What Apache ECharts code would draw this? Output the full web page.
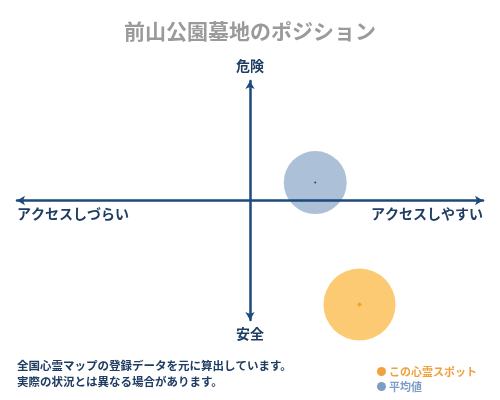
<!DOCTYPE html>
<html><head><meta charset="utf-8">
<script src="https://cdn.jsdelivr.net/npm/echarts@6/dist/echarts.min.js"></script>
<style>html,body{margin:0;padding:0;background:#fff}#c{width:500px;height:400px}</style>
</head><body><div id="c"></div>
<script>
const titleText = '前山公園墓地のポジション';
const axisLabels = { top: '危険', bottom: '安全', left: 'アクセスしづらい', right: 'アクセスしやすい' };
const seriesNames = ['この心霊スポット', '平均値'];
const spotPoint = [47, -87];
const avgPoint = [28, 15];
const footnotes = ['全国心霊マップの登録データを元に算出しています。', '実際の状況とは異なる場合があります。'];

const navy = '#1d4a7c';
const textNavy = '#1f3d63';
const font = '"Noto Sans CJK JP", "Noto Sans", sans-serif';

const chart = echarts.init(document.getElementById('c'));
chart.setOption({
  animation: false,
  title: { text: titleText, left: 'center', top: 16, textStyle: { color: '#9a9a9a', fontSize: 21, fontWeight: 'bold', fontFamily: font } },
  grid: { left: 17, right: 17, top: 81, bottom: 80 },
  xAxis: { type: 'value', min: -100, max: 100, z: 10,
    axisLine: { onZero: true, symbol: ['arrow', 'arrow'], symbolSize: [7, 8], lineStyle: { color: navy, width: 2.5 } },
    axisTick: { show: false }, axisLabel: { show: false }, splitLine: { show: false } },
  yAxis: { type: 'value', min: -100, max: 100, z: 10,
    axisLine: { onZero: true, symbol: ['arrow', 'arrow'], symbolSize: [7, 8], lineStyle: { color: navy, width: 2.5 } },
    axisTick: { show: false }, axisLabel: { show: false }, splitLine: { show: false } },
  legend: {
    left: 372, top: 361, orient: 'vertical', itemGap: 4, itemWidth: 9, itemHeight: 9, icon: 'circle',
    data: [
      { name: seriesNames[0], itemStyle: { color: '#f0a03c', opacity: 1 }, textStyle: { color: '#f0a03c' } },
      { name: seriesNames[1], itemStyle: { color: '#7d9ec2', opacity: 1 }, textStyle: { color: '#7d9ec2' } }
    ],
    textStyle: { fontSize: 11, fontWeight: 'bold', fontFamily: font, padding: [0, 0, 0, -2] }
  },
  graphic: [
    { type: 'text', left: 'center', top: 59, style: { text: axisLabels.top, fill: textNavy, font: 'bold 14px ' + font } },
    { type: 'text', left: 'center', top: 327, style: { text: axisLabels.bottom, fill: textNavy, font: 'bold 14px ' + font } },
    { type: 'text', left: 17, top: 207, style: { text: axisLabels.left, fill: textNavy, font: 'bold 14px ' + font } },
    { type: 'text', right: 17, top: 207, style: { text: axisLabels.right, fill: textNavy, font: 'bold 14px ' + font } },
    { type: 'text', left: 17, top: 360, style: { text: footnotes[0], fill: textNavy, font: 'bold 11.5px ' + font } },
    { type: 'text', left: 17, top: 376, style: { text: footnotes[1], fill: textNavy, font: 'bold 11.5px ' + font } }
  ],
  series: [
    { name: seriesNames[0], type: 'scatter', symbolSize: 72, data: [spotPoint], z: 2,
      itemStyle: { color: '#fcb53e', opacity: 0.72 } },
    { name: seriesNames[1], type: 'scatter', symbolSize: 63, data: [avgPoint], z: 2,
      itemStyle: { color: '#5f86b5', opacity: 0.52 } },
    { name: 'spotCenter', type: 'scatter', symbol: 'diamond', symbolSize: 5, data: [spotPoint], z: 3,
      itemStyle: { color: '#f09a20' }, silent: true },
    { name: 'avgCenter', type: 'scatter', symbolSize: 2, data: [avgPoint], z: 3,
      itemStyle: { color: '#222' }, silent: true }
  ]
});
</script></body></html>
